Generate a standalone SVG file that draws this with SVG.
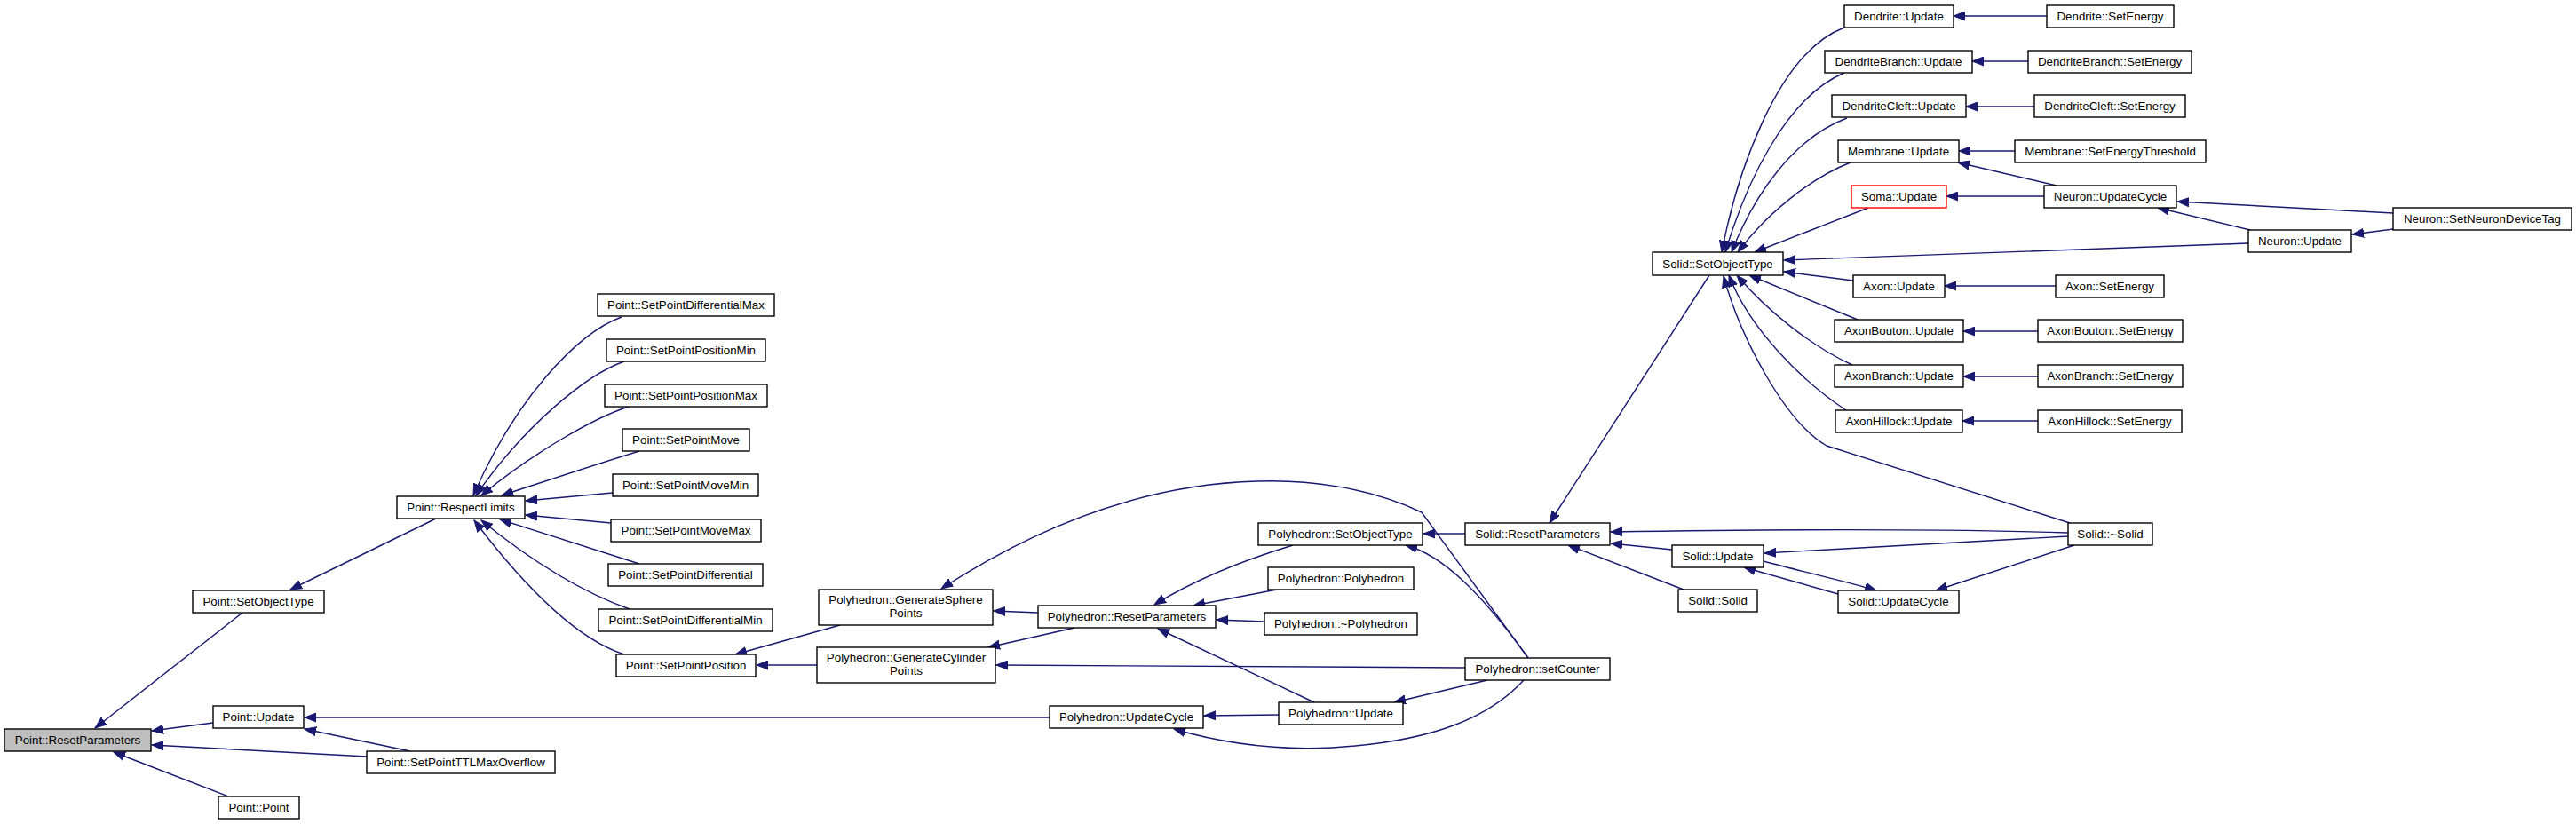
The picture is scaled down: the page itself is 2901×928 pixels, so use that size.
<svg xmlns="http://www.w3.org/2000/svg" width="2901" height="928" viewBox="0 0 2901 928">
<style>
.node rect{fill:#fff;stroke:#000;stroke-width:1.4}
.node text{font-family:"Liberation Sans",Arial,sans-serif;font-size:13.33px;text-anchor:middle;fill:#000}
#edges path{fill:none;stroke:#191970;stroke-width:1.4;marker-end:url(#a)}
</style>
<defs>
<marker id="a" markerWidth="14" markerHeight="11" refX="13" refY="5.5" orient="auto" markerUnits="userSpaceOnUse">
<path d="M0,0.5 L13,5.5 L0,10.5 z" fill="#191970" stroke="#191970" stroke-width="1"/>
</marker>
</defs>
<rect width="2901" height="928" fill="#fff"/>
<g id="edges">
<path d="M273,690 L107,820"/>
<path d="M240,814 L171,823"/>
<path d="M413,852 L171,839"/>
<path d="M257,897 L128,847"/>
<path d="M462,846 L343,821"/>
<path d="M1182,808 L343,808"/>
<path d="M491,584 L327,664"/>
<path d="M700,357 C650,375 580,450 533,558"/>
<path d="M703,407 C660,422 590,480 536,558"/>
<path d="M708,458 C670,470 600,510 542,558"/>
<path d="M720,508 C680,520 620,540 565,558"/>
<path d="M690,555 L592,564"/>
<path d="M688,589 L592,580"/>
<path d="M720,635 C680,622 620,603 563,585"/>
<path d="M709,686 C650,665 590,625 542,586"/>
<path d="M703,737 C650,720 590,660 534,586"/>
<path d="M946,704 L828,737"/>
<path d="M920,749 L852,749"/>
<path d="M1169,690 L1119,688"/>
<path d="M1210,707 L1113,729"/>
<path d="M1721,741 L1601,577 C1540,548 1470,540 1416,542 C1300,545 1180,585 1060,663"/>
<path d="M1456,614 C1410,628 1350,650 1300,681"/>
<path d="M1438,664 L1344,682"/>
<path d="M1424,700 L1370,698"/>
<path d="M1480,791 L1304,708"/>
<path d="M1650,752 L1122,749"/>
<path d="M1440,805 L1356,806"/>
<path d="M1716,766 C1680,805 1620,835 1500,842 C1440,845 1380,838 1322,821"/>
<path d="M1675,766 L1570,791"/>
<path d="M1650,601 L1603,601"/>
<path d="M1721,741 C1670,670 1625,625 1583,614"/>
<path d="M1925,310 L1745,589"/>
<path d="M1883,619 L1814,612"/>
<path d="M1896,664 L1766,614"/>
<path d="M2329,600 C2200,596 2000,596 1814,599"/>
<path d="M2329,604 L1987,623"/>
<path d="M2070,669 L1964,639"/>
<path d="M1986,632 C2030,644 2080,655 2113,665"/>
<path d="M2336,614 L2180,665"/>
<path d="M2331,589 L2057,502 C2010,475 1960,380 1941,311"/>
<path d="M2077,31 C2000,60 1955,200 1939,284"/>
<path d="M2077,82 C2010,110 1965,210 1943,284"/>
<path d="M2080,133 C2020,155 1975,220 1950,284"/>
<path d="M2084,183 C2040,200 1990,240 1957,284"/>
<path d="M2104,234 L1976,284"/>
<path d="M2087,316 L2009,306"/>
<path d="M2092,360 L1970,310"/>
<path d="M2086,411 C2040,390 1990,350 1956,310"/>
<path d="M2079,462 C2030,430 1970,370 1947,310"/>
<path d="M2532,274 L2009,293"/>
<path d="M2305,18 L2200,18"/>
<path d="M2284,69 L2221,69"/>
<path d="M2291,120 L2214,120"/>
<path d="M2269,170 L2206,170"/>
<path d="M2316,209 L2205,183"/>
<path d="M2302,221 L2192,221"/>
<path d="M2695,240 L2452,227"/>
<path d="M2534,259 L2430,234"/>
<path d="M2695,258 L2649,264"/>
<path d="M2315,322 L2190,322"/>
<path d="M2295,373 L2211,373"/>
<path d="M2295,424 L2211,424"/>
<path d="M2295,474 L2210,474"/>
</g>
<g id="n1" class="node"><rect x="5" y="821" width="165" height="25" style="fill:#bfbfbf"/><text x="87.5" y="838.2">Point::ResetParameters</text></g>
<g id="n2" class="node"><rect x="217" y="665" width="148" height="25"/><text x="291" y="682.2">Point::SetObjectType</text></g>
<g id="n3" class="node"><rect x="240" y="795" width="102" height="25"/><text x="291" y="812.2">Point::Update</text></g>
<g id="n4" class="node"><rect x="413" y="846" width="212" height="25"/><text x="519" y="863.2">Point::SetPointTTLMaxOverflow</text></g>
<g id="n5" class="node"><rect x="246" y="897" width="91" height="25"/><text x="291.5" y="914.2">Point::Point</text></g>
<g id="n6" class="node"><rect x="447" y="559" width="144" height="25"/><text x="519" y="576.2">Point::RespectLimits</text></g>
<g id="n7" class="node"><rect x="673" y="331" width="199" height="25"/><text x="772.5" y="348.2">Point::SetPointDifferentialMax</text></g>
<g id="n8" class="node"><rect x="683" y="382" width="179" height="25"/><text x="772.5" y="399.2">Point::SetPointPositionMin</text></g>
<g id="n9" class="node"><rect x="681" y="433" width="183" height="25"/><text x="772.5" y="450.2">Point::SetPointPositionMax</text></g>
<g id="n10" class="node"><rect x="701" y="483" width="143" height="25"/><text x="772.5" y="500.2">Point::SetPointMove</text></g>
<g id="n11" class="node"><rect x="690" y="534" width="164" height="25"/><text x="772" y="551.2">Point::SetPointMoveMin</text></g>
<g id="n12" class="node"><rect x="688" y="585" width="169" height="25"/><text x="772.5" y="602.2">Point::SetPointMoveMax</text></g>
<g id="n13" class="node"><rect x="685" y="635" width="174" height="25"/><text x="772" y="652.2">Point::SetPointDifferential</text></g>
<g id="n14" class="node"><rect x="674" y="686" width="196" height="25"/><text x="772" y="703.2">Point::SetPointDifferentialMin</text></g>
<g id="n15" class="node"><rect x="694" y="737" width="157" height="25"/><text x="772.5" y="754.2">Point::SetPointPosition</text></g>
<g id="n16" class="node"><rect x="922" y="664" width="196" height="40"/><text x="1020" y="680.4">Polyhedron::GenerateSphere</text><text x="1020" y="695.4">Points</text></g>
<g id="n17" class="node"><rect x="920" y="729" width="201" height="40"/><text x="1020.5" y="745.4">Polyhedron::GenerateCylinder</text><text x="1020.5" y="760.4">Points</text></g>
<g id="n18" class="node"><rect x="1169" y="682" width="200" height="25"/><text x="1269" y="699.2">Polyhedron::ResetParameters</text></g>
<g id="n19" class="node"><rect x="1182" y="795" width="173" height="25"/><text x="1268.5" y="812.2">Polyhedron::UpdateCycle</text></g>
<g id="n20" class="node"><rect x="1417" y="589" width="185" height="25"/><text x="1509.5" y="606.2">Polyhedron::SetObjectType</text></g>
<g id="n21" class="node"><rect x="1428" y="639" width="164" height="25"/><text x="1510" y="656.2">Polyhedron::Polyhedron</text></g>
<g id="n22" class="node"><rect x="1424" y="690" width="172" height="25"/><text x="1510" y="707.2">Polyhedron::~Polyhedron</text></g>
<g id="n23" class="node"><rect x="1440" y="791" width="140" height="25"/><text x="1510" y="808.2">Polyhedron::Update</text></g>
<g id="n24" class="node"><rect x="1650" y="589" width="163" height="25"/><text x="1731.5" y="606.2">Solid::ResetParameters</text></g>
<g id="n25" class="node"><rect x="1650" y="741" width="163" height="25"/><text x="1731.5" y="758.2">Polyhedron::setCounter</text></g>
<g id="n26" class="node"><rect x="1883" y="614" width="103" height="25"/><text x="1934.5" y="631.2">Solid::Update</text></g>
<g id="n27" class="node"><rect x="1890" y="664" width="89" height="25"/><text x="1934.5" y="681.2">Solid::Solid</text></g>
<g id="n28" class="node"><rect x="2070" y="665" width="136" height="25"/><text x="2138" y="682.2">Solid::UpdateCycle</text></g>
<g id="n29" class="node"><rect x="2329" y="589" width="95" height="25"/><text x="2376.5" y="606.2">Solid::~Solid</text></g>
<g id="n30" class="node"><rect x="1861" y="284" width="147" height="26"/><text x="1934.5" y="301.7">Solid::SetObjectType</text></g>
<g id="n31" class="node"><rect x="2077" y="6" width="123" height="25"/><text x="2138.5" y="23.2">Dendrite::Update</text></g>
<g id="n32" class="node"><rect x="2305" y="6" width="143" height="25"/><text x="2376.5" y="23.2">Dendrite::SetEnergy</text></g>
<g id="n33" class="node"><rect x="2055" y="57" width="166" height="25"/><text x="2138" y="74.2">DendriteBranch::Update</text></g>
<g id="n34" class="node"><rect x="2284" y="57" width="184" height="25"/><text x="2376" y="74.2">DendriteBranch::SetEnergy</text></g>
<g id="n35" class="node"><rect x="2063" y="107" width="151" height="25"/><text x="2138.5" y="124.2">DendriteCleft::Update</text></g>
<g id="n36" class="node"><rect x="2291" y="107" width="170" height="25"/><text x="2376" y="124.2">DendriteCleft::SetEnergy</text></g>
<g id="n37" class="node"><rect x="2070" y="158" width="136" height="25"/><text x="2138" y="175.2">Membrane::Update</text></g>
<g id="n38" class="node"><rect x="2269" y="158" width="215" height="25"/><text x="2376.5" y="175.2">Membrane::SetEnergyThreshold</text></g>
<g id="n39" class="node"><rect x="2085" y="209" width="107" height="25" style="stroke:#ff0000"/><text x="2138.5" y="226.2">Soma::Update</text></g>
<g id="n40" class="node"><rect x="2302" y="209" width="149" height="25"/><text x="2376.5" y="226.2">Neuron::UpdateCycle</text></g>
<g id="n41" class="node"><rect x="2695" y="234" width="201" height="25"/><text x="2795.5" y="251.2">Neuron::SetNeuronDeviceTag</text></g>
<g id="n42" class="node"><rect x="2532" y="259" width="116" height="25"/><text x="2590" y="276.2">Neuron::Update</text></g>
<g id="n43" class="node"><rect x="2087" y="310" width="103" height="25"/><text x="2138.5" y="327.2">Axon::Update</text></g>
<g id="n44" class="node"><rect x="2315" y="310" width="122" height="25"/><text x="2376" y="327.2">Axon::SetEnergy</text></g>
<g id="n45" class="node"><rect x="2066" y="360" width="145" height="25"/><text x="2138.5" y="377.2">AxonBouton::Update</text></g>
<g id="n46" class="node"><rect x="2295" y="360" width="163" height="25"/><text x="2376.5" y="377.2">AxonBouton::SetEnergy</text></g>
<g id="n47" class="node"><rect x="2066" y="411" width="145" height="25"/><text x="2138.5" y="428.2">AxonBranch::Update</text></g>
<g id="n48" class="node"><rect x="2295" y="411" width="163" height="25"/><text x="2376.5" y="428.2">AxonBranch::SetEnergy</text></g>
<g id="n49" class="node"><rect x="2067" y="462" width="143" height="25"/><text x="2138.5" y="479.2">AxonHillock::Update</text></g>
<g id="n50" class="node"><rect x="2295" y="462" width="162" height="25"/><text x="2376" y="479.2">AxonHillock::SetEnergy</text></g>
</svg>
